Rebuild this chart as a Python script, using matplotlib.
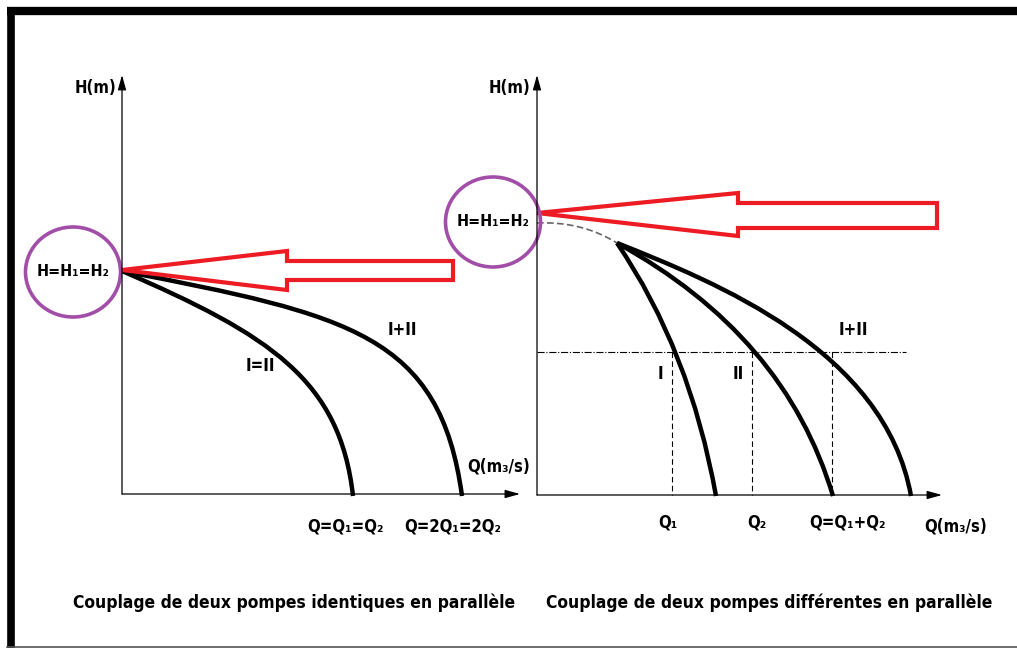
import matplotlib.pyplot as plt
from matplotlib.path import Path
from matplotlib.patches import PathPatch, Ellipse, Polygon

# picture coordinates (pixels, y downwards)
W, H = 1017, 648

# left panel: two identical pumps
left_origin = (122, 494)
left_y_top = 75
left_x_end = 520
curve_single = [(122, 271), (270, 335), (340, 380), (353, 496)]
curve_double = [(122, 271), (350, 315), (440, 335), (462, 496)]
left_arrow = [(122, 270), (287, 251), (287, 261), (453, 261), (453, 280), (287, 280), (287, 290)]
left_circle = (73, 272)

# right panel: two different pumps
right_origin = (537, 495)
right_y_top = 75
right_x_end = 942
dashed_part = [(537, 223), (582, 221), (617, 243)]
curve_I = [(617, 243), (690, 350), (716, 496)]
curve_II = [(617, 243), (785, 335), (833, 496)]
curve_sum = [(617, 243), (715, 282), (885, 350), (911, 496)]
h_level = 352
h_line_end = 906
q_marks = [672, 752, 832]
right_arrow = [(537, 213), (738, 193), (738, 203), (937, 203), (937, 228), (738, 228), (738, 236)]
right_circle = (493, 222)

labels = [
    ("H(m)", 96, 88), ("H(m)", 510, 88),
    ("I=II", 260, 366), ("I+II", 402, 330),
    ("Q(m\u2083/s)", 499, 467),
    ("Q=Q\u2081=Q\u2082", 345, 527), ("Q=2Q\u2081=2Q\u2082", 453, 527),
    ("I", 660, 374), ("II", 738, 374), ("I+II", 853, 330),
    ("Q\u2081", 668, 522), ("Q\u2082", 757, 522), ("Q=Q\u2081+Q\u2082", 847, 522),
    ("Q(m\u2083/s)", 956, 527),
]
captions = [
    ("Couplage de deux pompes identiques en parallèle", 294, 603),
    ("Couplage de deux pompes différentes en parallèle", 769, 603),
]

FONT = dict(family='DejaVu Sans', fontstretch='condensed', fontweight='bold')
RED = '#ed1c24'
PURPLE = '#a24ea8'

fig = plt.figure(figsize=(W / 100, H / 100), dpi=100)
ax = fig.add_axes([0, 0, 1, 1])
ax.set_xlim(0, W)
ax.set_ylim(H, 0)
ax.axis('off')


def bezier(pts, **kw):
    codes = [Path.MOVETO] + ([Path.CURVE4] * 3 if len(pts) == 4 else [Path.CURVE3] * 2)
    ax.add_patch(PathPatch(Path(pts, codes), fill=False, **kw))


def axis_arrow(x0, y0, x1, y1):
    ax.annotate('', xy=(x1, y1), xytext=(x0, y0),
                arrowprops=dict(arrowstyle='-|>,head_length=0.9,head_width=0.25', color='black', lw=0.9,
                                shrinkA=0, shrinkB=0))


# frame of the picture
ax.plot([7, W], [11, 11], color='black', lw=6, solid_capstyle='butt')
ax.plot([10.5, 10.5], [7, H], color='black', lw=5.5, solid_capstyle='butt')
ax.plot([7, W], [646.5, 646.5], color='#555555', lw=1.2)

# axes of both panels
axis_arrow(left_origin[0], left_origin[1], left_origin[0], left_y_top)
axis_arrow(left_origin[0], left_origin[1], left_x_end, left_origin[1])
axis_arrow(right_origin[0], right_origin[1], right_origin[0], right_y_top)
axis_arrow(right_origin[0], right_origin[1], right_x_end, right_origin[1])

# pump curves
bezier(curve_single, color='black', lw=3.2)
bezier(curve_double, color='black', lw=3.2)
bezier(dashed_part, color='#666666', lw=1.2, linestyle=(0, (4, 2)))
bezier(curve_I, color='black', lw=3.2)
bezier(curve_II, color='black', lw=3.2)
bezier(curve_sum, color='black', lw=3.2)

# operating point guides
ax.plot([right_origin[0], h_line_end], [h_level, h_level], color='black', lw=0.8, linestyle='-.')
for q in q_marks:
    ax.plot([q, q], [h_level, right_origin[1]], color='black', lw=0.8, linestyle=(0, (5, 3)))

# hollow red arrows
for pts in (left_arrow, right_arrow):
    ax.add_patch(Polygon(pts, closed=True, fill=False, edgecolor=RED, lw=3, joinstyle='miter'))

# circled heads
for cx, cy in (left_circle, right_circle):
    ax.add_patch(Ellipse((cx, cy), 95, 90, fill=False, edgecolor=PURPLE, lw=2.6))
    ax.text(cx, cy, "H=H\u2081=H\u2082", fontsize=11.5, ha='center', va='center', **FONT)

for txt, x, y in labels:
    ax.text(x, y, txt, fontsize=12, ha='center', va='center', **FONT)
for txt, x, y in captions:
    ax.text(x, y, txt, fontsize=12.5, ha='center', va='center', **FONT)

fig.savefig('out.png', dpi=100)
